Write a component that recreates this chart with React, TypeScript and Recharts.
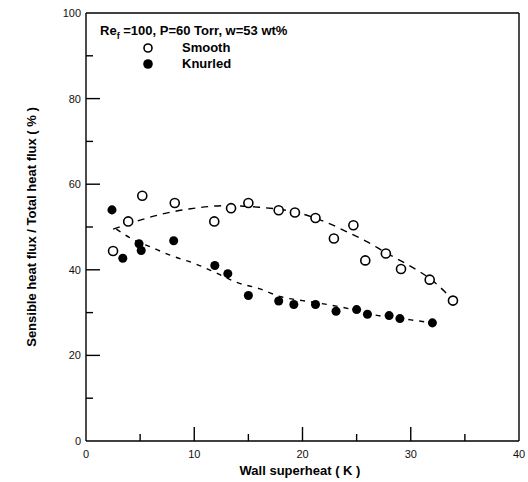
import { ComposedChart, XAxis, YAxis, Scatter, Line, ReferenceLine } from "recharts"

// wall superheat (K) vs sensible / total heat flux (%)
const smoothX = [2.5, 3.9, 5.2, 8.2, 11.85, 13.4, 15.0, 17.8, 19.3, 21.2, 22.9, 24.7, 25.8, 27.7, 29.1, 31.75, 33.9]
const smoothY = [44.4, 51.3, 57.3, 55.6, 51.3, 54.4, 55.6, 53.9, 53.4, 52.1, 47.3, 50.4, 42.2, 43.8, 40.2, 37.7, 32.8]

const knurledX = [2.4, 3.4, 4.9, 5.1, 8.1, 11.9, 13.1, 15.0, 17.8, 19.2, 21.2, 23.1, 25.0, 26.0, 28.0, 29.0, 32.0]
const knurledY = [54.0, 42.7, 46.1, 44.5, 46.8, 41.0, 39.1, 34.0, 32.7, 31.9, 31.9, 30.3, 30.7, 29.6, 29.3, 28.6, 27.6]

// dashed fit curves
const smoothFitX = [2.5, 5, 7, 9.5, 13, 16, 19.5, 22, 24, 26, 27.7, 30, 31.8, 33.9]
const smoothFitY = [49.5, 51.6, 53, 54.2, 55, 54.6, 53.4, 51.3, 49, 46.5, 44, 40.8, 37.9, 33]
const knurledFitX = [2.8, 4.4, 6, 8, 10, 12, 14, 16, 18, 20, 22.5, 24.5, 27, 30, 32]
const knurledFitY = [49.5, 47, 45.3, 43.2, 41.5, 39.3, 37, 35.6, 33.7, 32.8, 31.8, 30.8, 29.3, 28.3, 27.6]

const xTicks = [0, 5, 10, 15, 20, 25, 30, 35, 40]
const yTicks = [0, 10, 20, 30, 40, 50, 60, 70, 80, 90, 100]

const zip = (xs: number[], ys: number[]) => xs.map((x, i) => ({ x, y: ys[i] }))

const smooth = zip(smoothX, smoothY)
const knurled = zip(knurledX, knurledY)
const smoothFit = zip(smoothFitX, smoothFitY)
const knurledFit = zip(knurledFitX, knurledFitY)

const FONT = "'Liberation Sans', Arial, sans-serif"

// plot box: 433 px for 40 K, 428 px for 100 %
const PX_PER_X = 433 / 40
const PX_PER_Y = 428 / 100
const tickLen = (major: boolean) => (major ? 14 : 7)

function renderXTick(props: any) {
  const { x, y, payload } = props
  const v = Number(payload.value)
  return (
    <text key={"xt" + v} x={x} y={y + 17} textAnchor="middle" fontSize={11} fontFamily={FONT} fill="#111">
      {v % 10 === 0 ? v : ""}
    </text>
  )
}

function renderYTick(props: any) {
  const { x, y, payload } = props
  const v = Number(payload.value)
  return (
    <text key={"yt" + v} x={x - 5} y={y + 4} textAnchor="end" fontSize={11} fontFamily={FONT} fill="#111">
      {v % 20 === 0 ? v : ""}
    </text>
  )
}

const titleStyle = { fontFamily: FONT, fontWeight: 700, fontSize: 13, fill: "#000" }

export default function App() {
  const innerX = xTicks.filter((v) => v > 0 && v < 40)
  const innerY = yTicks.filter((v) => v > 0 && v < 100)
  return (
    <div style={{ position: "absolute", left: 0, top: 0, width: 528, height: 482, background: "#fff" }}>
      <ComposedChart width={528} height={482} margin={{ top: 13, right: 9, bottom: 0, left: 0 }}>
        <XAxis
          type="number"
          dataKey="x"
          domain={[0, 40]}
          ticks={xTicks}
          height={41}
          tickSize={0}
          tickMargin={0}
          tickLine={false}
          tick={renderXTick}
          axisLine={{ stroke: "#000", strokeWidth: 1.4 }}
        />
        <YAxis
          type="number"
          dataKey="y"
          domain={[0, 100]}
          ticks={yTicks}
          width={86}
          tickSize={0}
          tickMargin={0}
          tickLine={false}
          tick={renderYTick}
          axisLine={{ stroke: "#000", strokeWidth: 1.4 }}
        />
        <ReferenceLine x={40} stroke="#000" strokeWidth={1.4} />
        <ReferenceLine y={100} stroke="#000" strokeWidth={1.4} />
        {innerX.map((v) => (
          <ReferenceLine
            key={"xm" + v}
            segment={[{ x: v, y: 0 }, { x: v, y: tickLen(v % 10 === 0) / PX_PER_Y }]}
            stroke="#000"
            strokeWidth={1.4}
          />
        ))}
        {innerY.map((v) => (
          <ReferenceLine
            key={"ym" + v}
            segment={[{ x: 0, y: v }, { x: tickLen(v % 20 === 0) / PX_PER_X, y: v }]}
            stroke="#000"
            strokeWidth={1.4}
          />
        ))}
        <Line data={smoothFit} dataKey="y" type="monotone" stroke="#000" strokeWidth={1.4} strokeDasharray="7 6" dot={false} isAnimationActive={false} />
        <Line data={knurledFit} dataKey="y" type="monotone" stroke="#000" strokeWidth={1.4} strokeDasharray="5 6" dot={false} isAnimationActive={false} />
        <Scatter data={smooth} dataKey="y" shape="circle" fill="#fff" stroke="#000" strokeWidth={1.6} isAnimationActive={false} />
        <Scatter data={knurled} dataKey="y" shape="circle" fill="#000" isAnimationActive={false} />
      </ComposedChart>
      <div style={{ position: "absolute", left: 100, top: 23, fontFamily: FONT, fontWeight: 700, fontSize: 13, color: "#000", whiteSpace: "nowrap" }}>
        Re<sub style={{ fontSize: 9 }}>f</sub> =100, P=60 Torr, w=53 wt%
      </div>
      <svg style={{ position: "absolute", left: 0, top: 0 }} width={528} height={80}>
        <circle cx={148} cy={48} r={4} fill="#fff" stroke="#000" strokeWidth={1.6} />
        <circle cx={148} cy={64} r={4.8} fill="#000" />
        <text x={182} y={52} {...titleStyle}>Smooth</text>
        <text x={182} y={68} {...titleStyle}>Knurled</text>
      </svg>
      <svg style={{ position: "absolute", left: 0, top: 80 }} width={48} height={300}>
        <text x={0} y={0} transform="translate(36,147) rotate(-90)" textAnchor="middle" {...titleStyle}>
          Sensible heat flux / Total heat flux ( % )
        </text>
      </svg>
      <svg style={{ position: "absolute", left: 150, top: 458 }} width={300} height={24}>
        <text x={150} y={17} textAnchor="middle" {...titleStyle}>Wall superheat ( K )</text>
      </svg>
    </div>
  )
}
